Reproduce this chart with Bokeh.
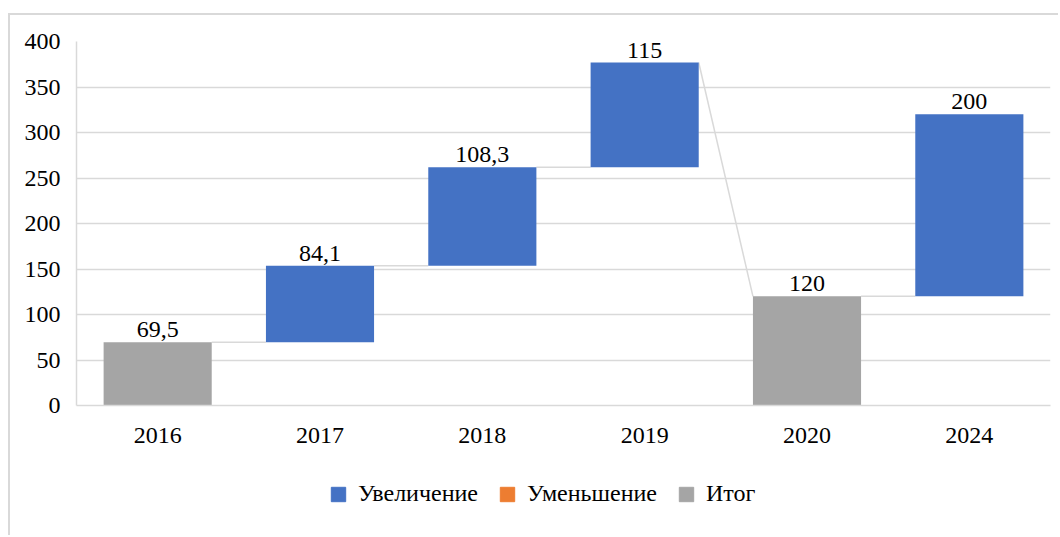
from bokeh.plotting import figure
from bokeh.layouts import column
from bokeh.models import ColumnDataSource, Range1d, FixedTicker, Legend, LegendItem
from bokeh.core.properties import value
from bokeh.embed import file_html
from bokeh.resources import INLINE

years = ["2016", "2017", "2018", "2019", "2020", "2024"]
amounts = [69.5, 84.1, 108.3, 115, 120, 200]
kinds = ["total", "inc", "inc", "inc", "total", "inc"]
y_ticks = [0, 50, 100, 150, 200, 250, 300, 350, 400]
legend_labels = ["Увеличение", "Уменьшение", "Итог"]

BLUE = "#4472C4"
ORANGE = "#ED7D31"
GRAY = "#A5A5A5"
GRID = "#D9D9D9"
FONT = "Liberation Serif"
FS = "24px"
W = 0.666

# waterfall geometry
xs, bottoms, tops, colors, labels = [], [], [], [], []
running = 0.0
for i, (a, k) in enumerate(zip(amounts, kinds)):
    if k == "total":
        b, t = 0.0, a
    else:
        b, t = running, running + a
    running = t
    xs.append(i + 0.5)
    bottoms.append(b)
    tops.append(t)
    colors.append(GRAY if k == "total" else BLUE)
    labels.append(("%g" % a).replace(".", ","))

# connectors: end of one bar to start of next
cx0, cx1, cy0, cy1 = [], [], [], []
for i in range(len(years) - 1):
    start_next = tops[i + 1] if kinds[i + 1] == "total" else bottoms[i + 1]
    cx0.append(xs[i] + W / 2)
    cx1.append(xs[i + 1] - W / 2)
    cy0.append(tops[i])
    cy1.append(start_next)

p = figure(width=1048, height=445, output_backend="svg", toolbar_location=None,
           x_range=Range1d(0, len(years)), y_range=Range1d(0, 400),
           min_border_left=66, min_border_right=8, min_border_top=26,
           min_border_bottom=55)
p.outline_line_color = None
p.background_fill_color = "white"
p.border_fill_color = "white"

src = ColumnDataSource(dict(x=xs, bottom=bottoms, top=tops, color=colors, label=labels))
cs = ColumnDataSource(dict(x0=cx0, x1=cx1, y0=cy0, y1=cy1))

p.segment("x0", "y0", "x1", "y1", source=cs, line_color=GRID, line_width=1.5)
p.vbar(x="x", bottom="bottom", top="top", width=W, color="color", source=src,
       line_color=None)
p.text(x="x", y="top", text="label", source=src, text_align="center",
       text_baseline="bottom", y_offset=-5, text_font=value(FONT),
       text_font_size=FS, text_color="black")

p.xaxis.ticker = FixedTicker(ticks=xs)
p.xaxis.major_label_overrides = {x: y for x, y in zip(xs, years)}
p.yaxis.ticker = FixedTicker(ticks=y_ticks)
for ax in (p.xaxis, p.yaxis):
    ax.axis_line_color = GRID
    ax.axis_line_width = 1.5
    ax.major_tick_line_color = None
    ax.minor_tick_line_color = None
    ax.major_tick_out = 0
    ax.major_tick_in = 0
    ax.major_label_text_font = FONT
    ax.major_label_text_font_size = FS
    ax.major_label_text_color = "black"
p.yaxis.major_label_standoff = 16
p.xaxis.major_label_standoff = 22
p.xgrid.grid_line_color = None
p.ygrid.grid_line_color = GRID
p.ygrid.grid_line_width = 1.5

# legend strip (proxy glyphs lie outside its visible range)
lg = figure(width=1048, height=75, output_backend="svg", toolbar_location=None,
            x_range=Range1d(0, 1), y_range=Range1d(0, 1),
            x_axis_type=None, y_axis_type=None, min_border=0)
lg.outline_line_color = None
lg.grid.visible = False
proxy = dict(x=[-10], top=[-10])
r_inc = lg.vbar(x="x", top="top", width=0.1, color=BLUE, source=ColumnDataSource(proxy))
r_dec = lg.vbar(x="x", top="top", width=0.1, color=ORANGE, source=ColumnDataSource(proxy))
r_tot = lg.vbar(x="x", top="top", width=0.1, color=GRAY, source=ColumnDataSource(proxy))
legend = Legend(items=[LegendItem(label=legend_labels[0], renderers=[r_inc]),
                       LegendItem(label=legend_labels[1], renderers=[r_dec]),
                       LegendItem(label=legend_labels[2], renderers=[r_tot])],
                orientation="horizontal", location=(253, 28),
                glyph_width=18, glyph_height=18, label_standoff=11, spacing=20,
                padding=0, margin=0, border_line_color=None, background_fill_alpha=0,
                label_text_font=FONT, label_text_font_size=FS,
                label_text_color="black", label_height=18)
lg.add_layout(legend, "center")

layout = column(p, lg, spacing=0)
layout.margin = (13, 0, 0, 8)
layout.styles = {"border-left": "2px solid #D9D9D9", "border-top": "2px solid #D9D9D9"}

open("out.html", "w").write(file_html(layout, INLINE))
